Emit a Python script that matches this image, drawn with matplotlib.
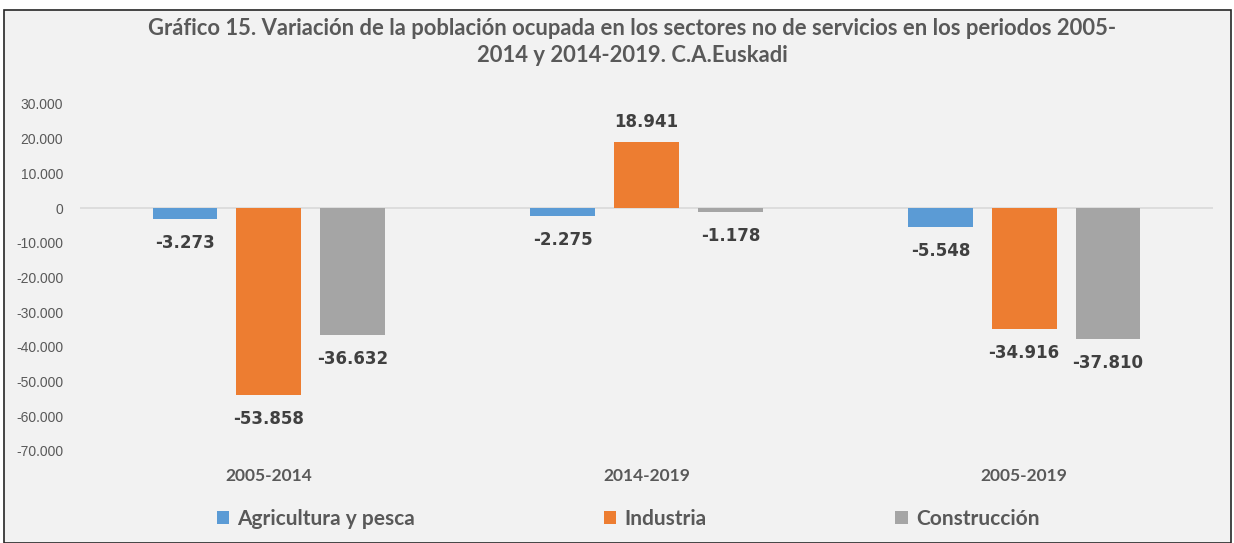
import matplotlib
matplotlib.use("Agg")
import matplotlib.pyplot as plt
import numpy as np
from matplotlib.patches import Rectangle
from matplotlib.ticker import FuncFormatter

periods = ["2005-2014", "2014-2019", "2005-2019"]
series_names = ["Agricultura y pesca", "Industria", "Construcción"]
agricultura = [-3273, -2275, -5548]
industria = [-53858, 18941, -34916]
construccion = [-36632, -1178, -37810]
colors = ["#5B9BD5", "#ED7D31", "#A5A5A5"]
yticks = list(range(-70000, 30001, 10000))
title = ("Gráfico 15. Variación de la población ocupada en los sectores no de servicios en los periodos 2005-\n"
         "2014 y 2014-2019. C.A.Euskadi")

W, H = 1234, 543
fig = plt.figure(figsize=(W / 100, H / 100), dpi=100)
fig.patch.set_facecolor("white")
fig.patches.append(Rectangle((4 / W, 0), (1231 - 4) / W, (H - 10) / H, transform=fig.transFigure,
                             facecolor="#F2F2F2", edgecolor="#262626", linewidth=1.2, zorder=-5))

ax = fig.add_axes([80 / W, 1 - 451 / H, (1213 - 80) / W, (451 - 104) / H])
ax.set_zorder(2)
ax.set_facecolor("none")
for s in ax.spines.values():
    s.set_visible(False)

x = np.arange(len(periods))
bw = 0.172
step = 0.222
all_series = [agricultura, industria, construccion]
handles = []
for i, (vals, name, c) in enumerate(zip(all_series, series_names, colors)):
    pos = x + (i - 1) * step
    b = ax.bar(pos, vals, width=bw, color=c, label=name, zorder=3, clip_on=False)
    handles.append(b)
    for px_, v in zip(pos, vals):
        lbl = f"{v:,}".replace(",", ".")
        if v < 0:
            ax.annotate(lbl, (px_, v), xytext=(0, -10.5), textcoords="offset points",
                        ha="center", va="top", fontsize=12, fontweight="bold",
                        color="#404040", family="DejaVu Sans")
        else:
            ax.annotate(lbl, (px_, v), xytext=(0, 8), textcoords="offset points",
                        ha="center", va="bottom", fontsize=12, fontweight="bold",
                        color="#404040", family="DejaVu Sans")

ax.axhline(0, color="#D9D9D9", linewidth=1.2, zorder=2)
ax.set_xlim(-0.5, len(periods) - 0.5)
ax.set_ylim(-70000, 30000)
ax.set_yticks(yticks)
ax.yaxis.set_major_formatter(FuncFormatter(lambda v, p: f"{int(v):,}".replace(",", ".")))
ax.tick_params(axis="y", length=0, pad=12, labelsize=10, labelcolor="#595959")
for t in ax.get_yticklabels():
    t.set_family("Liberation Sans")
ax.set_xticks(x)
ax.set_xticklabels(periods)
ax.tick_params(axis="x", length=0, pad=12, labelsize=12.5, labelcolor="#595959")
for t in ax.get_xticklabels():
    t.set_family("Lato")
    t.set_fontweight("bold")

fig.text(632 / W, 1 - 42 / H, title, ha="center", va="center", fontsize=15.8, fontweight="bold",
         color="#595959", family="Lato", linespacing=1.38)

leg = fig.legend(handles=handles, labels=series_names, loc="center", ncol=3,
                 bbox_to_anchor=(628 / W, 1 - 519 / H), frameon=False,
                 prop={"family": "Lato", "weight": "bold", "size": 15},
                 handlelength=0.6, handleheight=0.6, handletextpad=0.4, columnspacing=9.05)
for t in leg.get_texts():
    t.set_color("#595959")

fig.savefig("out.png", dpi=100, facecolor=fig.get_facecolor())
